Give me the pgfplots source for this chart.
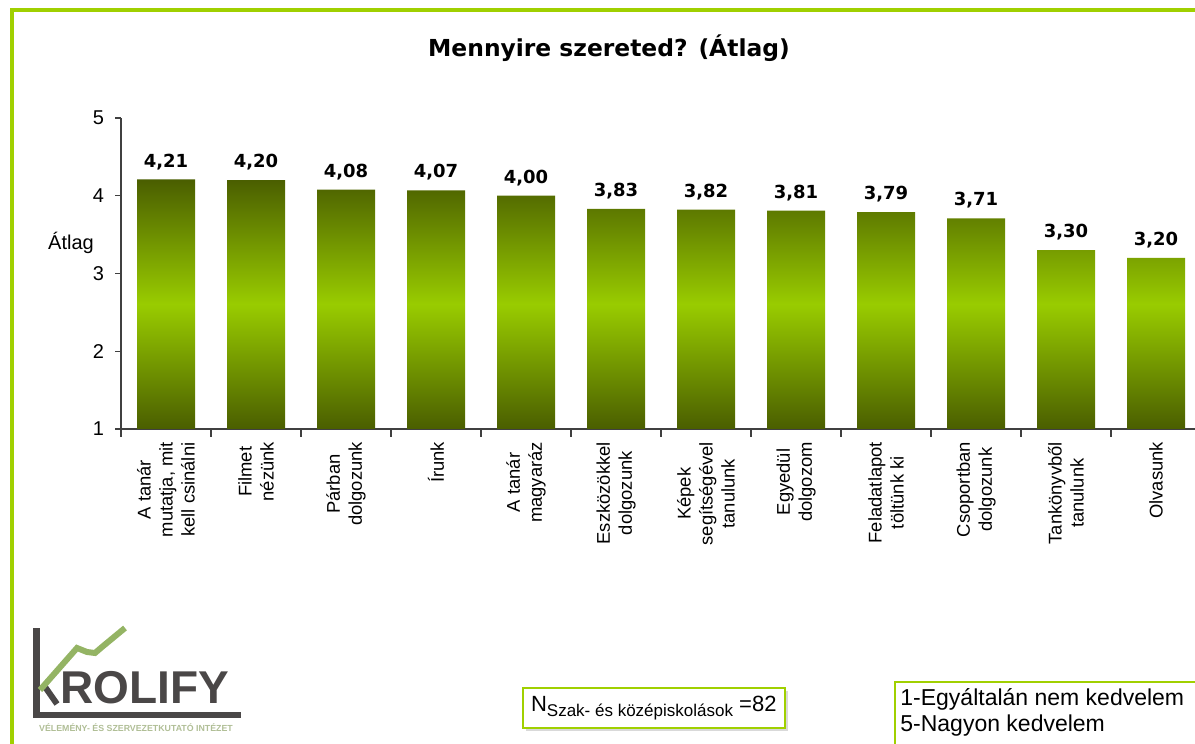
\documentclass[border=0pt]{standalone}
\usepackage{pgfplots}
\pgfplotsset{compat=1.18}
\usepackage{fontspec}
\setmainfont{Liberation Sans}
\newfontfamily\verd{DejaVu Sans}
\definecolor{frame}{RGB}{160,208,0}
\definecolor{bdark}{RGB}{74,94,0}
\definecolor{bmid}{RGB}{153,204,0}
\definecolor{logogray}{RGB}{74,71,71}
\definecolor{logogreen}{RGB}{148,180,100}
\definecolor{logotext}{RGB}{176,190,150}
\begin{document}
\begin{tikzpicture}[x=0.5pt,y=0.5pt]
\useasboundingbox (0,0) rectangle (1195,744);
% frame
\draw[frame, line width=2pt] (12,-16) -- (12,734) -- (1210,734);
\node[font=\verd\bfseries\fontsize{11.7}{14}\selectfont] at (609,696) {Mennyire szereted? (Átlag)};
\node[font=\fontsize{10}{12}\selectfont] at (71,501) {Átlag};
\coordinate (axorigin) at (121,315);
\begin{axis}[
  at={(axorigin)}, anchor=south west,
  scale only axis, width=540pt, height=155.5pt,
  xmin=-0.5, xmax=11.5, ymin=1, ymax=5,
  axis lines*=left,
  axis line style={draw=black!75, line width=0.6pt},
  ytick={1,2,3,4,5},
  tick align=outside,
  major tick length=3pt,
  minor tick length=4pt,
  tick style={black!75, line width=0.6pt},
  yticklabel style={font=\fontsize{10}{12}\selectfont, xshift=-2pt},
  /pgf/number format/assume math mode=true,
  xtick={0,...,11},
  major x tick style={draw=none},
  minor xtick={-0.5,0.5,...,11.5},
  xticklabel style={rotate=90, anchor=east, align=center, font=\fontsize{9.2}{11}\selectfont},
  xticklabels={{A tanár\\mutatja, mit\\kell csinálni},{Filmet\\nézünk},{Párban\\dolgozunk},{Írunk},{A tanár\\magyaráz},{Eszközökkel\\dolgozunk},{Képek\\segítségével\\tanulunk},{Egyedül\\dolgozom},{Feladatlapot\\töltünk ki},{Csoportban\\dolgozunk},{Tankönyvből\\tanulunk},{Olvasunk}},
  ybar, bar width=29pt,
  nodes near coords={\pgfmathprintnumber[fixed,fixed zerofill,precision=2,use comma]{\pgfplotspointmeta}},
  every node near coord/.append style={font=\verd\bfseries\fontsize{9}{11}\selectfont, anchor=base, yshift=6.2pt, black},
]
\addplot[draw=none, top color=bdark, bottom color=bdark, middle color=bmid] coordinates {
(0,4.21) (1,4.20) (2,4.08) (3,4.07) (4,4.00) (5,3.83) (6,3.82) (7,3.81) (8,3.79) (9,3.71) (10,3.30) (11,3.20)};
\end{axis}
% logo
\fill[logogray] (33,116) rectangle (40,26);
\fill[logogray] (33,32) rectangle (241,26);
\draw[logogray, line width=3pt] (43,60) -- (57,40);
\draw[logogreen, line width=3pt] (40,54) -- (77,96) -- (87,92) -- (95,91) -- (102,97) -- (125,116);
\node[anchor=base west, logogray, font=\bfseries\fontsize{23}{26}\selectfont, inner sep=0] at (60,40) {ROLIFY};
\node[logotext, font=\bfseries\fontsize{4.4}{5}\selectfont, inner sep=0] at (136,16) {VÉLEMÉNY- ÉS SZERVEZETKUTATÓ INTÉZET};
% box 1
\fill[black!15] (526,53) rectangle (788,13);
\draw[frame, line width=0.7pt, fill=white] (523,56) rectangle (785,16);
\node[anchor=west, font=\fontsize{11}{13}\selectfont] at (524,36) {N\raisebox{-0.5ex}{\fontsize{8.5}{10}\selectfont Szak- és középiskolások} =82};
% box 2
\draw[frame, line width=0.7pt, fill=white] (895,62) rectangle (1210,-16);
\node[anchor=north west, align=left, font=\fontsize{11.5}{13}\selectfont, inner sep=0] at (900,56) {1-Egyáltalán nem kedvelem\\5-Nagyon kedvelem};
\end{tikzpicture}
\end{document}
